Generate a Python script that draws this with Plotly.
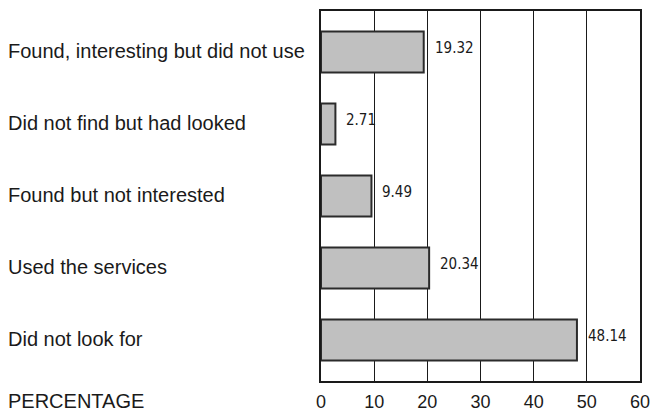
import plotly.graph_objects as go

categories = [
    "Found, interesting but did not use",
    "Did not find but had looked",
    "Found but not interested",
    "Used the services",
    "Did not look for",
]
percentages = [19.32, 2.71, 9.49, 20.34, 48.14]
x_ticks = [0, 10, 20, 30, 40, 50, 60]
axis_title = "PERCENTAGE"

W, H = 651, 412
ML, MR, MT, MB = 321, 11, 11, 31
plot_w = W - ML - MR

y_pos = list(range(len(categories)))
FONT = "Liberation Sans, Arial, sans-serif"

fig = go.Figure()
fig.add_trace(go.Bar(
    x=percentages,
    y=y_pos,
    orientation="h",
    width=0.57,
    marker=dict(color="#c0c0c0", line=dict(color="#2b2b2b", width=2)),
    hoverinfo="skip",
))

annotations = []
# value labels just to the right of each bar
for yi, v in zip(y_pos, percentages):
    annotations.append(dict(
        x=v, y=yi, xref="x", yref="y", text=f"{v:.2f}", showarrow=False,
        xanchor="left", yanchor="middle", xshift=9, yshift=4,
        font=dict(family="Liberation Sans Narrow, DejaVu Sans Condensed, Liberation Sans, sans-serif",
                  size=15, color="#1a1a1a"),
    ))
# left-aligned category labels
label_x = (6 - ML) / plot_w
for yi, c in zip(y_pos, categories):
    annotations.append(dict(
        x=label_x, y=yi, xref="paper", yref="y", text=c, showarrow=False,
        xanchor="left", yanchor="middle", yshift=1,
        font=dict(family=FONT, size=20, color="#1a1a1a"),
    ))
annotations.append(dict(
    x=label_x, y=0, xref="paper", yref="paper", text=axis_title, showarrow=False,
    xanchor="left", yanchor="middle", yshift=-(401 - (H - MB)),
    font=dict(family=FONT, size=20, color="#1a1a1a"),
))

fig.update_layout(
    template="none",
    width=W, height=H,
    margin=dict(l=ML, r=MR, t=MT, b=MB, autoexpand=False),
    paper_bgcolor="white", plot_bgcolor="white",
    showlegend=False,
    annotations=annotations,
    xaxis=dict(
        range=[0, 60], tickvals=x_ticks, ticktext=[str(t) for t in x_ticks],
        automargin=False,
        showgrid=True, gridcolor="#1a1a1a", gridwidth=1,
        zeroline=False, showline=True, linecolor="#1a1a1a", linewidth=2, mirror=True,
        ticks="", tickfont=dict(family=FONT, size=18, color="#1a1a1a"),
        ticklabelstandoff=3,
    ),
    yaxis=dict(
        range=[len(categories) - 1 + 0.57, -0.57],
        automargin=False,
        showticklabels=False, showgrid=False, zeroline=False,
        showline=True, linecolor="#1a1a1a", linewidth=2, mirror=True, ticks="",
    ),
)

fig.write_html("out.html")
